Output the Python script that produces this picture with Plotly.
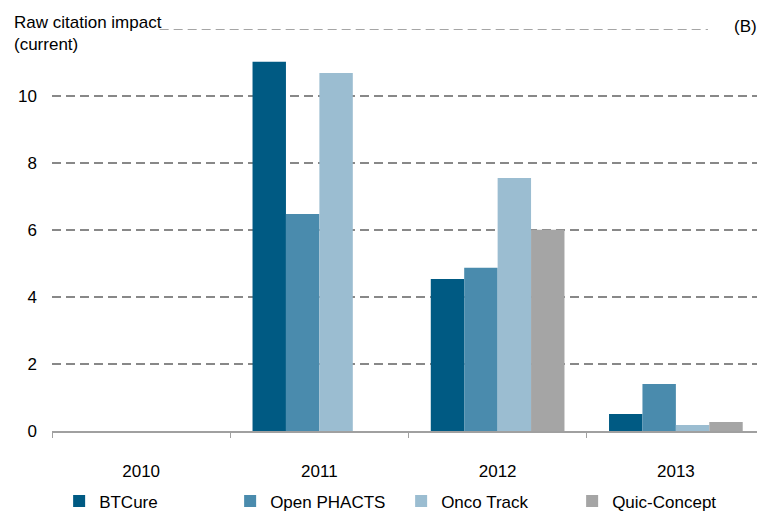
import plotly.graph_objects as go

years = ["2010", "2011", "2012", "2013"]
btcure = [0, 11.02, 4.54, 0.51]
open_phacts = [0, 6.48, 4.87, 1.40]
onco_track = [0, 10.69, 7.55, 0.18]
quic_concept = [0, 0, 6.01, 0.27]

series = [
    ("BTCure", btcure, "#005A83"),
    ("Open PHACTS", open_phacts, "#4A8BAD"),
    ("Onco Track", onco_track, "#9BBDD1"),
    ("Quic-Concept", quic_concept, "#A5A5A5"),
]

fig = go.Figure()
for name, vals, col in series:
    fig.add_trace(go.Bar(x=years, y=vals, name=name, marker=dict(color=col, line=dict(width=0))))

font = "Liberation Sans, Arial, sans-serif"
fig.update_layout(
    width=765, height=515,
    margin=dict(l=44, r=8, t=21, b=92, autoexpand=False),
    plot_bgcolor="white", paper_bgcolor="white",
    barmode="group", bargap=0.25, bargroupgap=0,
    font=dict(family=font, size=17, color="#000000"),
    showlegend=True,
    legend=dict(orientation="h", x=0.01, xanchor="left", y=-0.175, yanchor="middle",
                itemwidth=30, entrywidth=126, entrywidthmode="pixels",
                font=dict(size=17), traceorder="normal"),
    xaxis=dict(type="category", showgrid=False, showline=True, linecolor="#A0A0A0", linewidth=1.5,
               ticks="outside", tickson="boundaries", ticklen=5, tickcolor="#A0A0A0",
               ticklabelstandoff=24, tickfont=dict(size=17)),
    yaxis=dict(range=[0, 12], tickvals=[0, 2, 4, 6, 8, 10], showgrid=True, gridcolor="#888888",
               griddash="9px,5px", gridwidth=1.5, zeroline=False, showline=False, ticks="",
               ticklabelstandoff=14, tickfont=dict(size=17)),
    shapes=[dict(type="line", xref="paper", yref="y", x0=0.151, x1=0.92, y0=12, y1=12,
                 line=dict(color="#888888", width=1.5, dash="9px,5px"))],
    annotations=[
        dict(text="Raw citation impact<br>(current)", xref="paper", yref="paper", x=-0.0561, y=1.045,
             xanchor="left", yanchor="top", showarrow=False, align="left", font=dict(size=17)),
        dict(text="(B)", xref="paper", yref="paper", x=0.972, y=1.005, xanchor="center",
             yanchor="middle", showarrow=False, font=dict(size=17)),
    ],
)

fig.write_html("out.html")
